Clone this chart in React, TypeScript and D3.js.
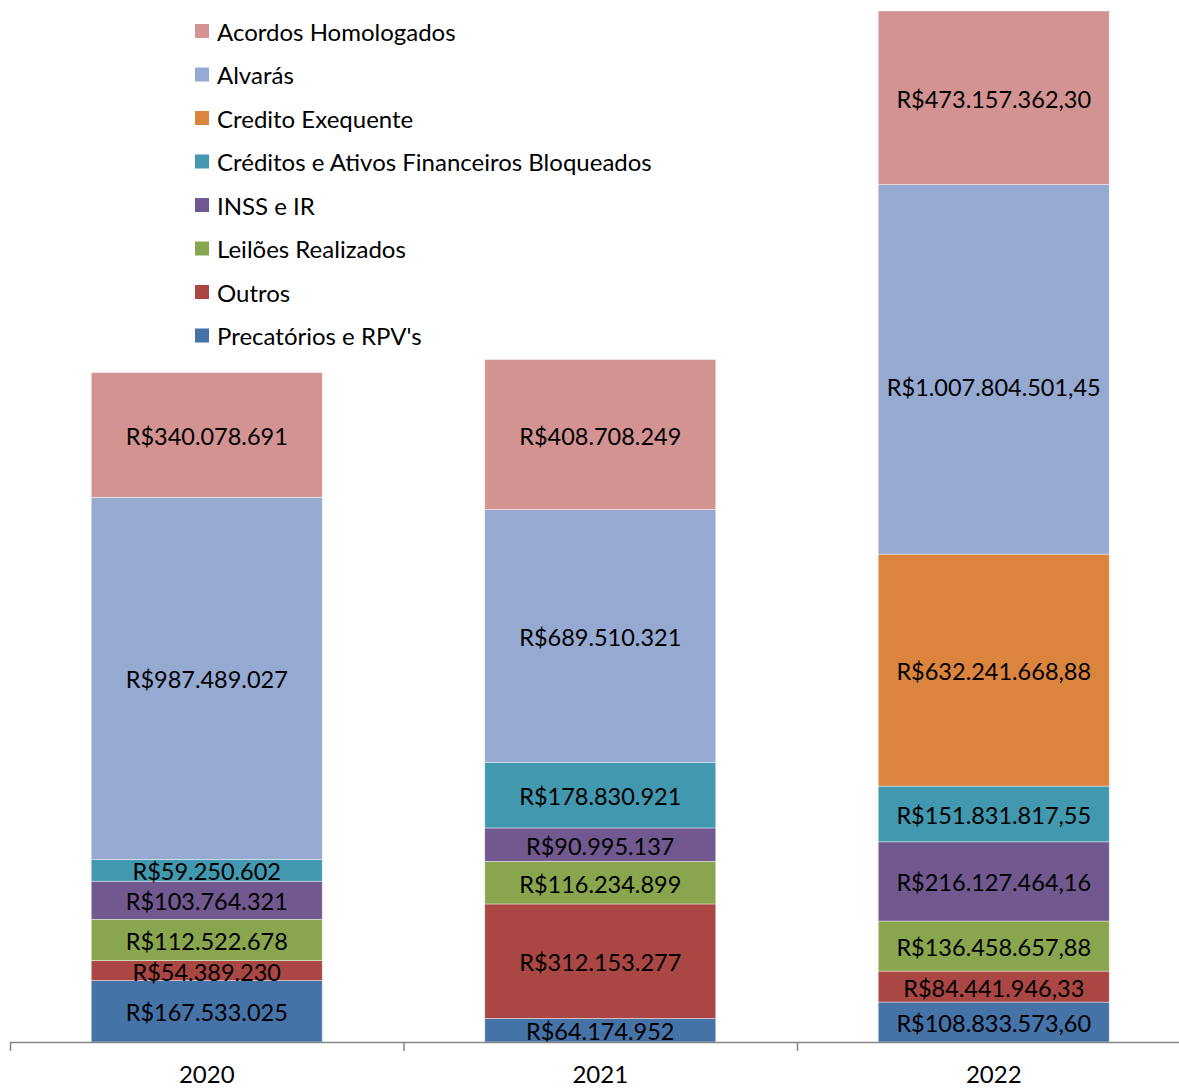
import React, { useEffect, useRef } from 'react';
import * as d3 from 'd3';

const years = ['2020', '2021', '2022'];
const seriesNames = [
  "Precatórios e RPV's",
  'Outros',
  'Leilões Realizados',
  'INSS e IR',
  'Créditos e Ativos Financeiros Bloqueados',
  'Credito Exequente',
  'Alvarás',
  'Acordos Homologados',
];
const seriesColors = ['#4572A7', '#AA4643', '#89A54E', '#71588F', '#4198AF', '#DB843D', '#95A9D1', '#D39393'];

// values per year, same order as seriesNames (0 = no segment)
const values2020 = [167533025, 54389230, 112522678, 103764321, 59250602, 0, 987489027, 340078691];
const values2021 = [64174952, 312153277, 116234899, 90995137, 178830921, 0, 689510321, 408708249];
const values2022 = [108833573.6, 84441946.33, 136458657.88, 216127464.16, 151831817.55, 632241668.88, 1007804501.45, 473157362.3];
const decimalsByYear = [0, 0, 2];

const W = 1179;
const H = 1088;
const FONT = 'Lato, "Open Sans", sans-serif';

const fmt = (v: number, dec: number) => {
  const [int, frac] = v.toFixed(dec).split('.');
  const withDots = int.replace(/\B(?=(\d{3})+(?!\d))/g, '.');
  return 'R$' + withDots + (frac ? ',' + frac : '');
};

const App = () => {
  const svgRef = useRef<SVGSVGElement>(null);

  useEffect(() => {
    const svg = d3.select(svgRef.current);
    svg.selectAll('*').remove();

    const allValues = [values2020, values2021, values2022];
    const rows = years.map((y, i) => {
      const row: any = { year: y, idx: i };
      seriesNames.forEach((s, j) => (row[s] = allValues[i][j]));
      return row;
    });
    const stacked = d3.stack().keys(seriesNames)(rows);
    const maxTotal = d3.max(rows, (r: any) => d3.sum(seriesNames, s => r[s])) as number;

    const baseY = 1042;
    const y = d3.scaleLinear().domain([0, maxTotal]).range([baseY, 11]);
    const x = d3.scaleBand().domain(years).range([10, 10 + 3 * 393.5]).padding(0);
    const barW = x.bandwidth() * 0.587;
    const barX = (yr: string) => (x(yr) as number) + (x.bandwidth() - barW) / 2;

    const g = svg.append('g');

    stacked.forEach((layer, li) => {
      const lg = g.append('g');
      lg.selectAll('rect')
        .data(layer.filter(d => d[1] - d[0] > 0))
        .join('rect')
        .attr('x', (d: any) => barX(d.data.year))
        .attr('y', d => y(d[1]))
        .attr('width', barW)
        .attr('height', d => y(d[0]) - y(d[1]))
        .attr('fill', seriesColors[li])
        .attr('stroke', '#ffffff')
        .attr('stroke-opacity', 0.5)
        .attr('stroke-width', 0.8);

      lg.selectAll('text')
        .data(layer.filter(d => d[1] - d[0] > 0))
        .join('text')
        .attr('x', (d: any) => barX(d.data.year) + barW / 2)
        .attr('y', (d: any) => {
          let cy = (y(d[0]) + y(d[1])) / 2 + 1;
          // Excel placed the tall 2022 Alvarás label a bit lower
          if (d.data.idx === 2 && seriesNames[li] === 'Alvarás') cy += 17;
          return cy;
        })
        .attr('text-anchor', 'middle')
        .attr('dominant-baseline', 'central')
        .style('font-family', FONT)
        .style('font-size', '23.5px')
        .attr('fill', '#000')
        .text((d: any) => fmt(d[1] - d[0], decimalsByYear[d.data.idx]));
    });

    // x axis
    const axisG = svg.append('g');
    axisG.append('line')
      .attr('x1', 10).attr('x2', W).attr('y1', baseY + 0.5).attr('y2', baseY + 0.5)
      .attr('stroke', '#868686').attr('stroke-width', 1.5);
    const tickXs = [...years.map(yr => x(yr) as number), (x(years[2]) as number) + x.bandwidth()];
    axisG.selectAll('line.tick')
      .data(tickXs)
      .join('line')
      .attr('class', 'tick')
      .attr('x1', d => d + 0.5).attr('x2', d => d + 0.5)
      .attr('y1', baseY).attr('y2', baseY + 9)
      .attr('stroke', '#868686').attr('stroke-width', 1.5);
    axisG.selectAll('text')
      .data(years)
      .join('text')
      .attr('x', d => (x(d) as number) + x.bandwidth() / 2)
      .attr('y', 1083)
      .attr('text-anchor', 'middle')
      .style('font-family', FONT)
      .style('font-size', '24px')
      .attr('fill', '#000')
      .text(d => d);

    // legend (top-down order reversed from stack)
    const legendItems = seriesNames.map((n, i) => ({ name: n, color: seriesColors[i] })).reverse();
    const leg = svg.append('g').attr('transform', 'translate(195,31)');
    const item = leg.selectAll('g')
      .data(legendItems)
      .join('g')
      .attr('transform', (d, i) => `translate(0,${i * 43.5})`);
    item.append('rect')
      .attr('x', 0).attr('y', -7).attr('width', 14).attr('height', 14)
      .attr('fill', d => d.color);
    item.append('text')
      .attr('x', 22).attr('y', 0)
      .attr('dominant-baseline', 'central')
      .style('font-family', FONT)
      .style('font-size', '24px')
      .attr('fill', '#000')
      .text(d => d.name);
  }, []);

  return (
    <div style={{ position: 'absolute', left: 0, top: 0 }}>
      <svg ref={svgRef} width={W} height={H} style={{ display: 'block', background: '#fff' }} />
    </div>
  );
};

export default App;
